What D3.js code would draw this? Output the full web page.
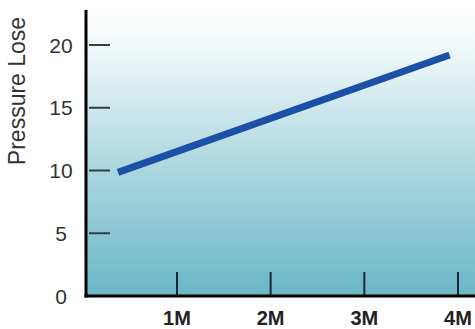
<!DOCTYPE html>
<html>
<head>
<meta charset="utf-8">
<script src="https://cdn.jsdelivr.net/npm/d3@7"></script>
<style>
  body { margin: 0; background: #fff; }
  text { font-family: "Liberation Sans", Arial, sans-serif; }
</style>
</head>
<body>
<div id="chart"></div>
<script>
// data
var xTicks = [1, 2, 3, 4];
var xTickLabels = ["1M", "2M", "3M", "4M"];
var yTicks = [0, 5, 10, 15, 20];
var lineX = [0.37, 3.91];
var lineY = [9.85, 19.2];

var width = 475, height = 329;

var svg = d3.select("#chart").append("svg")
    .attr("width", width)
    .attr("height", height);

// scales
var x = d3.scaleLinear().domain([0, 4]).range([83.3, 458]);
var y = d3.scaleLinear().domain([0, 20]).range([296, 45]);

var plotLeft = 86, plotTop = 10, plotRight = width, plotBottom = 296;

// background gradient
var defs = svg.append("defs");
var grad = defs.append("linearGradient")
    .attr("id", "bg")
    .attr("x1", 0).attr("y1", 0).attr("x2", 0).attr("y2", 1);
grad.append("stop").attr("offset", "0%").attr("stop-color", "#ffffff");
grad.append("stop").attr("offset", "12%").attr("stop-color", "#f2f9fa");
grad.append("stop").attr("offset", "55%").attr("stop-color", "#acd7df");
grad.append("stop").attr("offset", "100%").attr("stop-color", "#6ab7c7");

svg.append("rect")
    .attr("x", plotLeft)
    .attr("y", plotTop)
    .attr("width", plotRight - plotLeft)
    .attr("height", plotBottom - plotTop)
    .attr("fill", "url(#bg)");

// y ticks (inside the plot)
svg.selectAll(".ytick").data(yTicks.filter(function(d) { return d > 0; }))
    .enter().append("line")
    .attr("x1", plotLeft + 3).attr("x2", 110)
    .attr("y1", function(d) { return y(d); })
    .attr("y2", function(d) { return y(d); })
    .attr("stroke", "#2f3f46")
    .attr("stroke-width", 2);

svg.selectAll(".ylab").data(yTicks)
    .enter().append("text")
    .attr("x", 61)
    .attr("y", function(d) { return y(d); })
    .attr("dy", "0.36em")
    .attr("text-anchor", "middle")
    .attr("font-size", 21)
    .attr("fill", "#333")
    .text(function(d) { return d; });

// x ticks (upward from baseline)
svg.selectAll(".xtick").data(xTicks)
    .enter().append("line")
    .attr("x1", function(d) { return x(d); })
    .attr("x2", function(d) { return x(d); })
    .attr("y1", 272).attr("y2", plotBottom)
    .attr("stroke", "#1e2a30")
    .attr("stroke-width", 2);

svg.selectAll(".xlab").data(xTicks)
    .enter().append("text")
    .attr("x", function(d) { return x(d); })
    .attr("y", 325)
    .attr("text-anchor", "middle")
    .attr("font-size", 20)
    .attr("font-weight", "bold")
    .attr("fill", "#222")
    .text(function(d, i) { return xTickLabels[i]; });

// axes lines
svg.append("line")
    .attr("x1", plotLeft).attr("x2", plotLeft)
    .attr("y1", plotTop).attr("y2", plotBottom + 1.5)
    .attr("stroke", "#000").attr("stroke-width", 3);
svg.append("line")
    .attr("x1", plotLeft - 1.5).attr("x2", plotRight)
    .attr("y1", plotBottom).attr("y2", plotBottom)
    .attr("stroke", "#000").attr("stroke-width", 3);

// the data line
var pts = lineX.map(function(v, i) { return [v, lineY[i]]; });
svg.append("path")
    .datum(pts)
    .attr("d", d3.line()
        .x(function(d) { return x(d[0]); })
        .y(function(d) { return y(d[1]); }))
    .attr("fill", "none")
    .attr("stroke", "#1c4fa6")
    .attr("stroke-width", 7);

// y axis label
svg.append("text")
    .attr("transform", "translate(25,91) rotate(-90)")
    .attr("text-anchor", "middle")
    .attr("font-size", 23)
    .attr("fill", "#333")
    .text("Pressure Lose");
</script>
</body>
</html>
